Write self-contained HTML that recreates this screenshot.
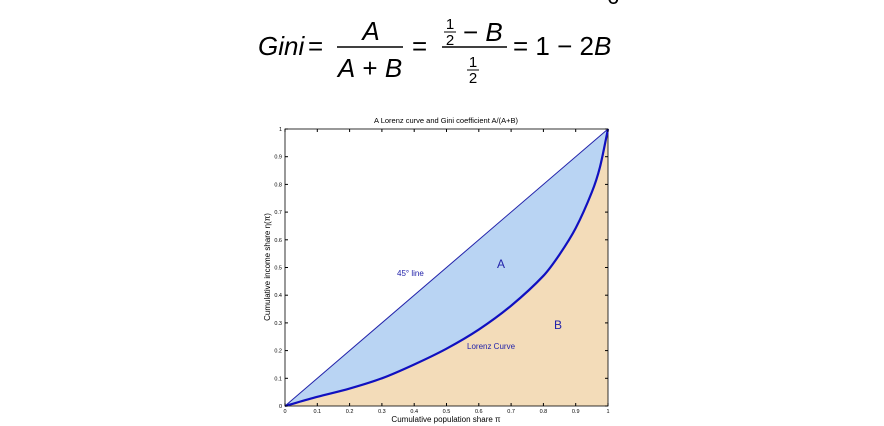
<!DOCTYPE html>
<html><head><meta charset="utf-8"><style>
body{margin:0;background:#fff;width:884px;height:426px;overflow:hidden}
svg{display:block}
text{font-family:"Liberation Sans",sans-serif}
</style></head><body>
<svg width="884" height="426">
<g fill="#000" font-size="26">
<text x="607" y="4" font-size="22">6</text>
<text x="258" y="55" font-style="italic">Gini</text>
<text x="308" y="55">=</text>
<text x="371" y="40" text-anchor="middle" font-style="italic">A</text>
<line x1="337" y1="47" x2="403" y2="47" stroke="#000" stroke-width="1.5"/>
<text x="370" y="77" text-anchor="middle"><tspan font-style="italic">A</tspan> + <tspan font-style="italic">B</tspan></text>
<text x="412" y="55">=</text>
<text x="450" y="29" font-size="15" text-anchor="middle">1</text>
<line x1="444" y1="32" x2="456" y2="32" stroke="#000" stroke-width="1"/>
<text x="450" y="45" font-size="15" text-anchor="middle">2</text>
<text x="463" y="41">− <tspan font-style="italic">B</tspan></text>
<line x1="442" y1="47" x2="507" y2="47" stroke="#000" stroke-width="1.5"/>
<text x="473" y="67" font-size="15" text-anchor="middle">1</text>
<line x1="467" y1="70" x2="479" y2="70" stroke="#000" stroke-width="1"/>
<text x="473" y="83" font-size="15" text-anchor="middle">2</text>
<text x="513" y="55">= 1 − 2<tspan font-style="italic">B</tspan></text>
</g>
<g id="chart"></g>
</svg>
<script>
const xVals=[0,0.1,0.2,0.3,0.4,0.5,0.6,0.7,0.8,0.85,0.9,0.95,0.975,1];
const lorenzVals=[0,0.033,0.063,0.1,0.15,0.207,0.276,0.362,0.47,0.547,0.642,0.772,0.862,1];
const xTicks=[0,0.1,0.2,0.3,0.4,0.5,0.6,0.7,0.8,0.9,1];
const xTickLabels=["0","0.1","0.2","0.3","0.4","0.5","0.6","0.7","0.8","0.9","1"];
const yTicks=[0,0.1,0.2,0.3,0.4,0.5,0.6,0.7,0.8,0.9,1];
const yTickLabels=["0","0.1","0.2","0.3","0.4","0.5","0.6","0.7","0.8","0.9","1"];
const L=285,R=608,T=129,B=406;
const sx=v=>L+v*(R-L), sy=v=>B-v*(B-T);
const g=document.getElementById('chart'),NS='http://www.w3.org/2000/svg';
function mk(t,a,p){const e=document.createElementNS(NS,t);for(const k in a)e.setAttribute(k,a[k]);(p||g).appendChild(e);return e;}
const P=xVals.map((x,i)=>[sx(x),sy(lorenzVals[i])]);
const n=P.length;
const M=P.map((p,i)=>{const a=P[Math.max(0,i-1)],b=P[Math.min(n-1,i+1)];return (b[1]-a[1])/(b[0]-a[0]);});
let d='M'+P[0][0]+','+P[0][1];
for(let i=0;i<n-1;i++){
 const p1=P[i],p2=P[i+1],dx=(p2[0]-p1[0])/3;
 d+=' C'+(p1[0]+dx)+','+(p1[1]+dx*M[i])+' '+(p2[0]-dx)+','+(p2[1]-dx*M[i+1])+' '+p2[0]+','+p2[1];
}
let e=mk('path',{d:d+' L'+sx(1)+','+sy(0)+' Z',fill:'#f3dcb9'});


e=mk('path',{d:d+' Z',fill:'#b9d4f3'});


e=mk('rect',{x:L,y:T,width:R-L,height:B-T,fill:'none',stroke:'#000','stroke-width':0.8});


e=mk('line',{x1:sx(0),y1:sy(0),x2:sx(1),y2:sy(1),stroke:'#2222aa','stroke-width':1});


e=mk('path',{d:d,fill:'none',stroke:'#1010c0','stroke-width':2.2,'stroke-linejoin':'round'});


xTicks.forEach((v,i)=>{
 mk('line',{x1:sx(v),y1:B,x2:sx(v),y2:B-3,stroke:'#000'});
 mk('line',{x1:sx(v),y1:T,x2:sx(v),y2:T+3,stroke:'#000'});
 const t=mk('text',{x:sx(v),y:B+7,'font-size':5.5,'text-anchor':'middle'});t.textContent=xTickLabels[i];
 
 
});
yTicks.forEach((v,i)=>{
 mk('line',{x1:L,y1:sy(v),x2:L+3,y2:sy(v),stroke:'#000'});
 mk('line',{x1:R,y1:sy(v),x2:R-3,y2:sy(v),stroke:'#000'});
 const t=mk('text',{x:L-3,y:sy(v)+2,'font-size':5.5,'text-anchor':'end'});t.textContent=yTickLabels[i];
 
 
});
function lbl(x,y,s,txt,name,fill,extra){const t=mk('text',Object.assign({x:x,y:y,'font-size':s,fill:fill||'#000'},extra||{}));t.textContent=txt;
 
 return t;}
lbl(446,123,7.5,'A Lorenz curve and Gini coefficient A/(A+B)','chart-title','#000',{'text-anchor':'middle'});
lbl(446,422,8,'Cumulative population share π','x-axis-title','#000',{'text-anchor':'middle'});
lbl(0,0,8,'Cumulative income share   η(π)','y-axis-title','#000',{'text-anchor':'middle',transform:'translate(270,267) rotate(-90)'});
lbl(397,276,8,'45° line','label-45-line','#2222aa');
lbl(467,349,8,'Lorenz Curve','label-lorenz','#2222aa');
lbl(497,268,12,'A','label-a','#2222aa');
lbl(554,329,12,'B','label-b','#2222aa');
</script>
</body></html>
